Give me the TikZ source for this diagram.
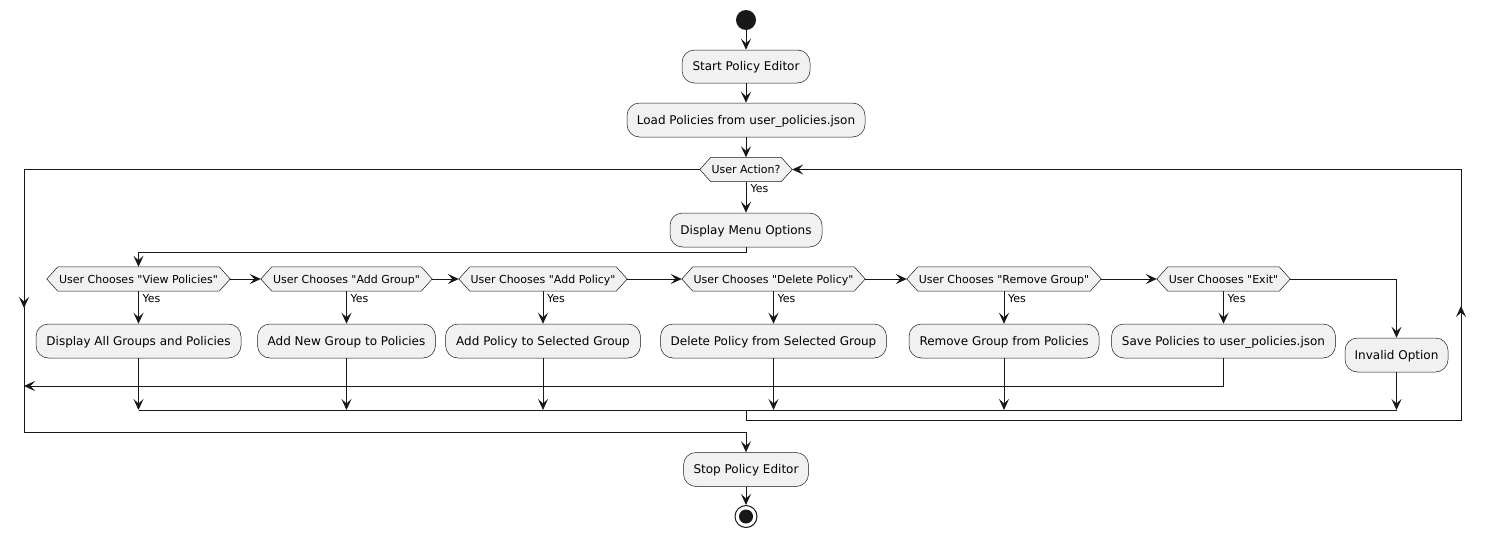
\documentclass[tikz,border=0pt]{standalone}
\usepackage{fontspec}
\setmainfont{DejaVu Sans}[Ligatures=TeXReset]
\usetikzlibrary{arrows.meta,backgrounds}
\definecolor{lncol}{HTML}{181818}
\definecolor{bxcol}{HTML}{F1F1F1}
\newcommand\hexof[1]{\path[hexs] (#1.west) -- ([xshift=11pt]#1.north west) -- ([xshift=-11pt]#1.north east) -- (#1.east) -- ([xshift=-11pt]#1.south east) -- ([xshift=11pt]#1.south west) -- cycle;}
\begin{document}
\begin{tikzpicture}[x=1pt,y=-1pt,
 act/.style={rectangle, rounded corners=12.5pt, draw=lncol, line width=0.5pt, fill=bxcol, inner sep=0pt, minimum height=34pt, text height=8.8pt, text depth=0pt, font=\fontsize{12}{14}\selectfont},
 hexn/.style={rectangle, inner sep=0pt, minimum height=24pt, text height=8pt, text depth=0pt, font=\fontsize{11}{13}\selectfont},
 hexs/.style={draw=lncol, line width=0.5pt, fill=bxcol},
 arr/.style={-{Stealth[length=11pt,width=10pt,inset=4.5pt]}, line width=1pt, draw=lncol},
 conn/.style={line width=1pt, draw=lncol},
 yes/.style={anchor=west, font=\fontsize{11}{13}\selectfont, inner sep=0pt, text height=8pt, text depth=0pt}
]
\useasboundingbox (0,0) rectangle (1485,538);
% start / end
\node[circle, fill=lncol, minimum size=20pt, inner sep=0pt] (start) at (746,20) {};
\node[act, minimum width=128pt, minimum height=33pt] (s1) at (746,66.5) {Start Policy Editor};
\node[act, minimum width=238pt] (s2) at (746,120) {Load Policies from user\_policies.json};
\node[hexn, minimum width=92pt] (ua) at (746,169.5) {User Action?};
\node[act, minimum width=152pt] (dm) at (746,230) {Display Menu Options};
% decisions
\node[hexn, minimum width=183pt] (d1) at (138.5,279) {User Chooses "View Policies"};
\node[hexn, minimum width=171pt] (d2) at (346.5,279) {User Chooses "Add Group"};
\node[hexn, minimum width=168pt] (d3) at (543,279) {User Chooses "Add Policy"};
\node[hexn, minimum width=183pt] (d4) at (773.5,279) {User Chooses "Delete Policy"};
\node[hexn, minimum width=194pt] (d5) at (1004,279) {User Chooses "Remove Group"};
\node[hexn, minimum width=133pt] (d6) at (1223.5,279) {User Chooses "Exit"};
% actions
\node[act, minimum width=205pt] (a1) at (138.5,341) {Display All Groups and Policies};
\node[act, minimum width=178pt] (a2) at (346.5,341) {Add New Group to Policies};
\node[act, minimum width=195pt] (a3) at (543,341) {Add Policy to Selected Group};
\node[act, minimum width=226pt] (a4) at (773.5,341) {Delete Policy from Selected Group};
\node[act, minimum width=190pt] (a5) at (1004,341) {Remove Group from Policies};
\node[act, minimum width=224pt] (a6) at (1223.5,341) {Save Policies to user\_policies.json};
\node[act, minimum width=103pt] (a7) at (1396.5,355) {Invalid Option};
\node[act, minimum width=125pt] (stop) at (746,469.5) {Stop Policy Editor};
\node[circle, draw=lncol, line width=1pt, fill=white, minimum size=22pt, inner sep=0pt] (endo) at (746,516.5) {};
\node[circle, fill=lncol, minimum size=14pt, inner sep=0pt] (endi) at (746,516.5) {};
\begin{scope}[on background layer]
\hexof{ua}\hexof{d1}\hexof{d2}\hexof{d3}\hexof{d4}\hexof{d5}\hexof{d6}
\end{scope}
% coordinates
\coordinate (mL) at (138.5,410);
\coordinate (mR) at (1396.5,410);
\coordinate (m) at (746,410);
\coordinate (lpL) at (24,169.5);
\coordinate (lpB) at (24,432);
\coordinate (rpT) at (1461,169.5);
\coordinate (rpB) at (1461,420);
\coordinate (ex) at (24,386);
% main flow
\draw[arr] (start) -- (s1);
\draw[arr] (s1) -- (s2);
\draw[arr] (s2) -- (ua);
\draw[arr] (ua) -- (dm);
\node[yes] (y0) at (750.5,188) {Yes};
\draw[arr] (dm.south) -- (746,252) -| (d1.north);
\draw[arr] (d1) -- (d2);
\draw[arr] (d2) -- (d3);
\draw[arr] (d3) -- (d4);
\draw[arr] (d4) -- (d5);
\draw[arr] (d5) -- (d6);
\draw[arr] (d6.east) -| (a7.north);
\foreach \i in {1,...,6} {
  \draw[arr] (d\i.south) -- (a\i.north);
}
\node[yes] (y1) at (142.5,298) {Yes};
\node[yes] (y2) at (350.5,298) {Yes};
\node[yes] (y3) at (547,298) {Yes};
\node[yes] (y4) at (777.5,298) {Yes};
\node[yes] (y5) at (1008,298) {Yes};
\node[yes] (y6) at (1227.5,298) {Yes};
% merge
\foreach \i in {1,2,3,4,5,7} {
  \draw[arr] (a\i.south) -- (a\i.south |- mL);
}
\draw[conn] (mL) -- (mR);
% exit
\draw[arr] (a6.south) |- (ex);
% loop back
\draw[arr] (m) -- (746,420) -- (rpB) -- (rpT) -- (ua.east);
\draw[arr] (1461,318) -- (1461,306);
% leave loop
\draw[arr] (ua.west) -- (lpL) -- (lpB) -| (stop.north);
\draw[arr] (24,296) -- (24,308);
\draw[arr] (stop) -- (endo);
\end{tikzpicture}
\end{document}
